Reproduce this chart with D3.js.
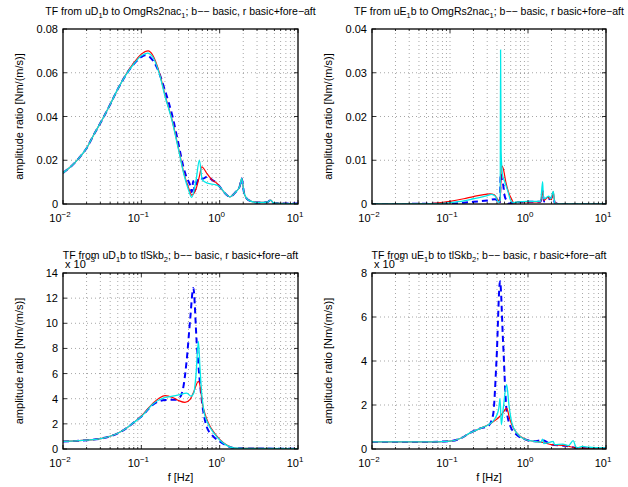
<!DOCTYPE html>
<html>
<head>
<meta charset="utf-8">
<script src="https://cdn.jsdelivr.net/npm/d3@7"></script>
<style>
  body { margin: 0; background: #fff; }
  text { font-family: "Liberation Sans", Arial, sans-serif; fill: #000; }
</style>
</head>
<body>
<svg id="fig" width="628" height="487"></svg>
<script>
// frequency decades shown on every x axis
var xDecades = [0.01, 0.1, 1, 10];
var xExponents = ["\u22122", "\u22121", "0", "1"];

// y ticks per panel (bottom row in units of 1e-3)
var tlTicks = [0, 0.02, 0.04, 0.06, 0.08];
var trTicks = [0, 0.01, 0.02, 0.03, 0.04];
var blTicks = [0, 2, 4, 6, 8, 10, 12, 14];
var brTicks = [0, 2, 4, 6, 8];

// TF uD1b -> OmgRs2nac1
var tlRed = [[0.01,0.0142],[0.0125,0.0170],[0.016,0.0210],[0.02,0.0255],[0.025,0.0320],[0.0315,0.0384],[0.04,0.0455],[0.05,0.0525],[0.063,0.0590],[0.08,0.0645],[0.1,0.0685],[0.122,0.0700],[0.14,0.0680],[0.17,0.0600],[0.2,0.0500],[0.247,0.0384],[0.3,0.0250],[0.35,0.0140],[0.4,0.0075],[0.44,0.0041],[0.5,0.0070],[0.55,0.0125],[0.59,0.0170],[0.7,0.0135],[0.8,0.0110],[0.92,0.0095],[1.0,0.0079],[1.2,0.0045],[1.34,0.0033],[1.6,0.0055],[1.8,0.0080],[1.91,0.0117],[2.05,0.0050],[2.33,0.0018],[3,0.0007],[4,0.0008],[4.5,0.0018],[4.8,0.0006],[6,0.0003],[10,0.0002]];
var tlCyan = [[0.01,0.0142],[0.0125,0.0170],[0.016,0.0210],[0.02,0.0255],[0.025,0.0320],[0.0315,0.0384],[0.04,0.0455],[0.05,0.0525],[0.063,0.0588],[0.08,0.0640],[0.1,0.0678],[0.12,0.0690],[0.14,0.0672],[0.17,0.0595],[0.2,0.0495],[0.247,0.0380],[0.3,0.0245],[0.35,0.0135],[0.4,0.0065],[0.44,0.0030],[0.5,0.0110],[0.551,0.0201],[0.6,0.0110],[0.7,0.0095],[0.9,0.0087],[1.0,0.0079],[1.2,0.0045],[1.34,0.0033],[1.6,0.0055],[1.8,0.0080],[1.91,0.0117],[2.05,0.0050],[2.33,0.0018],[3,0.0007],[4,0.0008],[4.5,0.0018],[4.8,0.0006],[6,0.0003],[10,0.0002]];
var tlBlue = [[0.01,0.0142],[0.0125,0.0170],[0.016,0.0210],[0.02,0.0255],[0.025,0.0320],[0.0315,0.0384],[0.04,0.0455],[0.05,0.0525],[0.063,0.0588],[0.08,0.0640],[0.1,0.0672],[0.112,0.0680],[0.13,0.0670],[0.16,0.0620],[0.2,0.0520],[0.25,0.0400],[0.3,0.0270],[0.344,0.0170],[0.38,0.0120],[0.42,0.0085],[0.44,0.0055],[0.46,0.0105],[0.48,0.0060],[0.51,0.0095],[0.55,0.0120],[0.6,0.0115],[0.7,0.0125],[0.8,0.0110],[0.92,0.0095],[1.0,0.0079],[1.2,0.0045],[1.34,0.0033],[1.6,0.0055],[1.8,0.0080],[1.91,0.0117],[2.05,0.0050],[2.33,0.0018],[3,0.0007],[4,0.0008],[4.5,0.0018],[4.8,0.0006],[6,0.0003],[10,0.0002]];

// TF uE1b -> OmgRs2nac1
var trRed = [[0.01,0],[0.05,0.00005],[0.067,0.0002],[0.1,0.0006],[0.15,0.0012],[0.2,0.0017],[0.26,0.0021],[0.326,0.0023],[0.37,0.0021],[0.41,0.0010],[0.44,0.0005],[0.455,0.0088],[0.48,0.0082],[0.52,0.0050],[0.56,0.0028],[0.62,0.0010],[0.66,0.0002],[0.75,0.0005],[1.0,0.0005],[1.45,0.0005],[1.54,0.0030],[1.6,0.0008],[1.8,0.0015],[2.0,0.0010],[2.11,0.0028],[2.2,0.0005],[2.5,0],[10,0]];
var trCyan = [[0.01,0],[0.07,0.0001],[0.1,0.0003],[0.15,0.0007],[0.2,0.0012],[0.3,0.0019],[0.34,0.0022],[0.38,0.0018],[0.42,0.0004],[0.44,0.0008],[0.445,0.0352],[0.452,0.0120],[0.47,0.0068],[0.5,0.0052],[0.55,0.0030],[0.6,0.0008],[0.65,0.0003],[0.7,0.0004],[1.0,0.0006],[1.45,0.0006],[1.54,0.0051],[1.58,0.0012],[1.7,0.0014],[1.85,0.0018],[1.95,0.0012],[2.11,0.0029],[2.2,0.0003],[2.5,0],[10,0]];
var trBlue = [[0.01,0],[0.1,0.0001],[0.15,0.0003],[0.2,0.0005],[0.3,0.0008],[0.38,0.0011],[0.42,0.0004],[0.435,0.0002],[0.447,0.0070],[0.46,0.0058],[0.48,0.0045],[0.5,0.0020],[0.53,0.0008],[0.56,0.0001],[0.7,0.0004],[1.0,0.0005],[1.45,0.0005],[1.54,0.0030],[1.6,0.0006],[1.9,0.0012],[2.11,0.0018],[2.2,0.0003],[2.5,0],[10,0]];

// TF uD1b -> tlSkb2 (x 1e-3)
var blRed = [[0.01,0.6],[0.02,0.7],[0.0327,0.87],[0.05,1.25],[0.065,1.67],[0.08,2.1],[0.101,2.65],[0.142,3.66],[0.17,4.05],[0.201,4.24],[0.25,4.1],[0.3,3.85],[0.361,3.71],[0.42,3.95],[0.47,4.6],[0.535,5.38],[0.57,4.8],[0.6,3.66],[0.65,2.8],[0.717,2.07],[0.85,1.3],[1.01,0.74],[1.2,0.35],[1.5,0.08],[2,0.05],[10,0.02]];
var blCyan = [[0.01,0.6],[0.02,0.7],[0.0327,0.87],[0.05,1.25],[0.065,1.67],[0.08,2.1],[0.101,2.6],[0.142,3.6],[0.201,4.1],[0.25,4.2],[0.3,4.3],[0.38,4.45],[0.43,4.2],[0.47,4.5],[0.5,6.0],[0.535,8.56],[0.56,6.5],[0.59,4.4],[0.63,3.0],[0.7,2.1],[0.85,1.25],[1.01,0.7],[1.2,0.33],[1.5,0.08],[2,0.05],[10,0.02]];
var blBlue = [[0.01,0.6],[0.02,0.7],[0.0327,0.87],[0.05,1.25],[0.065,1.67],[0.08,2.1],[0.101,2.6],[0.142,3.55],[0.201,3.9],[0.27,3.92],[0.31,4.1],[0.345,4.98],[0.38,7.1],[0.42,10.3],[0.461,12.8],[0.51,8.4],[0.59,3.92],[0.68,1.8],[0.8,1.1],[1.0,0.6],[1.2,0.3],[1.5,0.08],[2,0.05],[10,0.02]];

// TF uE1b -> tlSkb2 (x 1e-3)
var brRed = [[0.01,0.32],[0.05,0.32],[0.1,0.36],[0.14,0.5],[0.18,0.73],[0.25,0.95],[0.31,1.1],[0.38,1.3],[0.44,1.5],[0.5,1.75],[0.533,1.86],[0.58,1.4],[0.65,0.95],[0.716,0.73],[0.95,0.42],[1.2,0.35],[1.54,0.3],[2,0.2],[3,0.15],[4.3,0.05],[10,0.03]];
var brCyan = [[0.01,0.32],[0.05,0.32],[0.1,0.36],[0.14,0.5],[0.18,0.73],[0.25,0.95],[0.31,1.1],[0.38,1.4],[0.42,1.8],[0.438,2.3],[0.455,1.1],[0.48,1.8],[0.533,2.92],[0.57,2.0],[0.62,1.2],[0.716,0.73],[0.95,0.42],[1.2,0.35],[1.45,0.3],[1.54,0.45],[1.6,0.25],[1.9,0.3],[2.1,0.35],[2.2,0.2],[2.8,0.22],[3.3,0.15],[3.8,0.38],[4.1,0.1],[4.3,0.05],[5,0.12],[6,0.08],[10,0.05]];
var brBlue = [[0.01,0.32],[0.05,0.32],[0.1,0.36],[0.14,0.5],[0.18,0.73],[0.25,0.95],[0.31,1.05],[0.357,1.56],[0.395,4.06],[0.438,7.62],[0.48,4.8],[0.53,1.8],[0.6,1.0],[0.716,0.65],[0.95,0.42],[1.2,0.35],[1.54,0.4],[2,0.2],[3,0.15],[4.3,0.05],[10,0.03]];

var svg = d3.select("#fig");

function drawPanel(id, box, ticks, fmt, titleParts, red, cyan, blue, showXLabel, showExp) {
  var x = d3.scaleLog().domain([0.01, 10]).range([box.x0, box.x1]);
  var y = d3.scaleLinear().domain([ticks[0], ticks[ticks.length - 1]]).range([box.y1, box.y0]);
  var g = svg.append("g");

  // log minor ticks / grid
  var minor = [];
  for (var d = 0; d < 3; d++) {
    for (var m = 2; m <= 9; m++) minor.push(xDecades[d] * m);
  }
  var grid = g.append("g")
    .attr("stroke", "#000").attr("stroke-opacity", 0.5)
    .attr("stroke-width", 0.7).attr("stroke-dasharray", "1,3");
  minor.concat(xDecades.slice(1, 3)).forEach(function(f) {
    grid.append("line")
      .attr("x1", x(f)).attr("x2", x(f))
      .attr("y1", box.y0).attr("y2", box.y1);
  });
  ticks.slice(1, ticks.length - 1).forEach(function(t) {
    grid.append("line")
      .attr("x1", box.x0).attr("x2", box.x1)
      .attr("y1", y(t)).attr("y2", y(t));
  });

  g.append("clipPath").attr("id", "clip" + id)
   .append("rect")
   .attr("x", box.x0).attr("y", box.y0 - 1)
   .attr("width", box.x1 - box.x0).attr("height", box.y1 - box.y0 + 1);

  var line = d3.line()
    .x(function(p) { return x(p[0]); })
    .y(function(p) { return y(p[1]); })
    .curve(d3.curveMonotoneX);

  // drawn as in the original figure: blue dashed first, then red, cyan on top
  var curves = g.append("g").attr("clip-path", "url(#clip" + id + ")").attr("fill", "none");
  curves.append("path").attr("d", line(blue))
    .attr("stroke", "#0000ff").attr("stroke-width", 2)
    .attr("stroke-dasharray", "6,4");
  curves.append("path").attr("d", line(red))
    .attr("stroke", "#ff0000").attr("stroke-width", 1.2);
  curves.append("path").attr("d", line(cyan))
    .attr("stroke", "#00e8e8").attr("stroke-width", 1.3);

  // ticks inward on all four sides
  var tk = g.append("g").attr("stroke", "#000").attr("stroke-width", 0.8);
  xDecades.forEach(function(f) {
    tk.append("line").attr("x1", x(f)).attr("x2", x(f)).attr("y1", box.y1).attr("y2", box.y1 - 4);
    tk.append("line").attr("x1", x(f)).attr("x2", x(f)).attr("y1", box.y0).attr("y2", box.y0 + 4);
  });
  minor.forEach(function(f) {
    tk.append("line").attr("x1", x(f)).attr("x2", x(f)).attr("y1", box.y1).attr("y2", box.y1 - 2);
    tk.append("line").attr("x1", x(f)).attr("x2", x(f)).attr("y1", box.y0).attr("y2", box.y0 + 2);
  });
  ticks.forEach(function(t) {
    tk.append("line").attr("x1", box.x0).attr("x2", box.x0 + 4).attr("y1", y(t)).attr("y2", y(t));
    tk.append("line").attr("x1", box.x1).attr("x2", box.x1 - 4).attr("y1", y(t)).attr("y2", y(t));
  });

  g.append("rect")
   .attr("x", box.x0).attr("y", box.y0)
   .attr("width", box.x1 - box.x0).attr("height", box.y1 - box.y0)
   .attr("fill", "none").attr("stroke", "#000").attr("stroke-width", 1.3);

  // y tick labels
  ticks.forEach(function(t) {
    g.append("text")
     .attr("x", box.x0 - 5).attr("y", y(t) + 4)
     .attr("text-anchor", "end")
     .style("font-size", "11px")
     .text(fmt(t));
  });

  // x tick labels 10^n
  xDecades.forEach(function(f, i) {
    var t = g.append("text")
      .attr("x", x(f) - 3).attr("y", box.y1 + 18)
      .attr("text-anchor", "middle")
      .style("font-size", "11px");
    t.append("tspan").text("10");
    t.append("tspan").attr("dy", -5).style("font-size", "8px").text(xExponents[i]);
  });

  g.append("text")
   .attr("transform", "translate(" + (box.x0 - 40) + "," + ((box.y0 + box.y1) / 2) + ") rotate(-90)")
   .attr("text-anchor", "middle")
   .style("font-size", "11px")
   .text("amplitude ratio [Nm/(m/s)]");

  if (showXLabel) {
    g.append("text")
     .attr("x", (box.x0 + box.x1) / 2).attr("y", box.y1 + 32)
     .attr("text-anchor", "middle")
     .style("font-size", "11px")
     .text("f [Hz]");
  }

  if (showExp) {
    var e = g.append("text")
      .attr("x", box.x0 + 2).attr("y", box.y0 - 5)
      .style("font-size", "11px");
    e.append("tspan").text("x 10");
    e.append("tspan").attr("dy", -6).style("font-size", "8px").text("\u22123");
  }

  var title = g.append("text")
    .attr("x", (box.x0 + box.x1) / 2).attr("y", box.y0 - 14)
    .attr("text-anchor", "middle")
    .style("font-size", "10.5px");
  var shifted = false;
  titleParts.forEach(function(p) {
    var s = title.append("tspan").text(p[0]);
    if (p[1]) {
      s.attr("dy", 3).style("font-size", "7.5px");
      shifted = true;
    } else if (shifted) {
      s.attr("dy", -3);
      shifted = false;
    }
  });
}

var fmt2 = function(d) { return d === 0 ? "0" : d.toFixed(2); };
var fmtInt = function(d) { return String(d); };
var tail = "; b\u2212\u2212 basic, r basic+fore\u2212aft";

drawPanel("tl", {x0: 63, x1: 298, y0: 29, y1: 204}, tlTicks, fmt2,
  [["TF from uD", 0], ["1", 1], ["b to OmgRs2nac", 0], ["1", 1], [tail, 0]],
  tlRed, tlCyan, tlBlue, false, false);
drawPanel("tr", {x0: 372, x1: 606, y0: 29, y1: 204}, trTicks, fmt2,
  [["TF from uE", 0], ["1", 1], ["b to OmgRs2nac", 0], ["1", 1], [tail, 0]],
  trRed, trCyan, trBlue, false, false);
drawPanel("bl", {x0: 63, x1: 298, y0: 273, y1: 449}, blTicks, fmtInt,
  [["TF from uD", 0], ["1", 1], ["b to tlSkb", 0], ["2", 1], [tail, 0]],
  blRed, blCyan, blBlue, true, true);
drawPanel("br", {x0: 372, x1: 606, y0: 273, y1: 449}, brTicks, fmtInt,
  [["TF from uE", 0], ["1", 1], ["b to tlSkb", 0], ["2", 1], [tail, 0]],
  brRed, brCyan, brBlue, true, true);
</script>
</body>
</html>
